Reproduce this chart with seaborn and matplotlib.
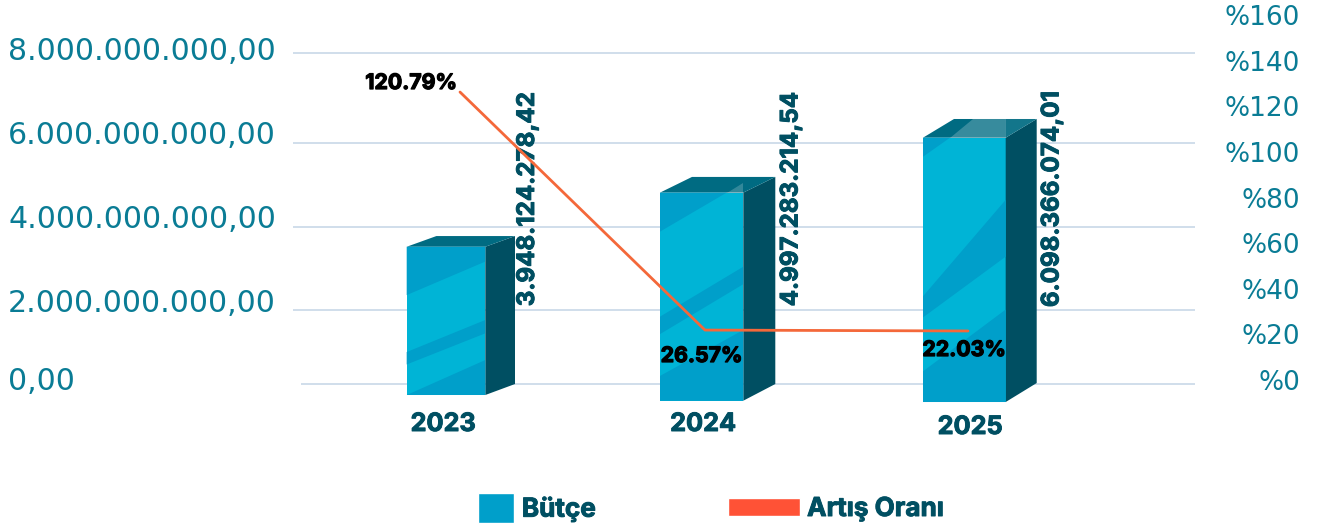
import matplotlib
matplotlib.use("Agg")
import matplotlib.pyplot as plt
from matplotlib.patches import Polygon, Patch
from matplotlib.transforms import ScaledTranslation
import matplotlib.patheffects as pe
import seaborn as sns
import numpy as np

# ---------- data ----------
years = ["2023", "2024", "2025"]
budget_labels = ["3.948.124.278,42", "4.997.283.214,54", "6.098.366.074,01"]
rate_labels = ["120.79%", "26.57%", "22.03%"]
bar_top = [3.25e9, 4.57e9, 5.91e9]       # drawn front-face tops on the left axis
bar_bottom = [-0.366e9, -0.505e9, -0.537e9]
rate_drawn = [126.3, 21.9, 21.5]
left_ticks = [0, 2e9, 4e9, 6e9, 8e9]
left_ticklabels = ["0,00", "2.000.000.000,00", "4.000.000.000,00", "6.000.000.000,00", "8.000.000.000,00"]
right_ticks = [0, 20, 40, 60, 80, 100, 120, 140, 160]
right_ticklabels = ["%" + str(t) for t in right_ticks]
grid_values = [7.976e9, 5.78e9, 3.73e9, 1.707e9, -0.098e9]

# ---------- layout (pixels) ----------
W, H = 1330, 531
AX_L, AX_R, AX_B = 290, 1195, 410
bar_x0 = [406.7, 660.0, 923.0]
bar_x1 = [485.3, 743.3, 1005.7]
depth_x = [29.7, 32.0, 31.0]
depth_top = [10.7, 15.7, 18.7]
depth_bot = [11.0, 16.7, 19.0]
line_x = [460, 705, 968]
year_tick_x = [443, 703, 970]
year_pad_px = [3, 3, 6]
label_x = [528, 791.5, 1052.5]
label_y = [199, 199, 199]
rate_x = [411, 701.5, 964]
rate_y = [83, 356, 350]
left_label_shift_px = [2, -2, 0, 1, 3]   # upward shift of each left tick label
PX = 41 / 1e9      # pixels per budget unit
PR = 2.28          # pixels per percent

LIGHT, DARK = "#00b4d6", "#009fca"
SIDE, TOP = "#004f62", "#006b82"
TEAL, LABEL = "#0a7c95", "#004f62"
GRID = "#c3d4e6"
ORANGE, LEGEND_ORANGE = "#f4683a", "#ff5236"
BOLD = "Inter"
FS_BOLD = 18.2

sns.set_theme(style="white", rc={"axes.facecolor": "none", "figure.facecolor": "white"})
plt.rcParams["font.family"] = ["DejaVu Sans"]
plt.rcParams["ytick.alignment"] = "center_baseline"


def heavy(color, w=0.7):
    return [pe.withStroke(linewidth=w, foreground=color)]


fig = plt.figure(figsize=(W / 100, H / 100), dpi=100)
ax = fig.add_axes([AX_L / W, (H - AX_B) / H, (AX_R - AX_L) / W, AX_B / H])
ax.set_xlim(AX_L, AX_R)
ax.set_ylim(-(AX_B - 380) / PX, 380 / PX)

# gridlines
for i, g in enumerate(grid_values):
    ax.hlines(g, 301 if i == 4 else AX_L + 3, AX_R, color=GRID, lw=1.1, zorder=1)

# front faces through seaborn
centers = [(a + b) / 2 for a, b in zip(bar_x0, bar_x1)]
heights = [t - b for t, b in zip(bar_top, bar_bottom)]
sns.barplot(x=centers, y=heights, bottom=bar_bottom, native_scale=True, color=LIGHT,
            saturation=1, width=0.3, ax=ax, zorder=3, legend=False)
for p, a, b, lo, hi in zip(ax.patches, bar_x0, bar_x1, bar_bottom, bar_top):
    p.set_x(a); p.set_width(b - a); p.set_y(lo); p.set_height(hi - lo)
    p.set_linewidth(0)
ax.set_xlim(AX_L, AX_R)
ax.set_ylim(-(AX_B - 380) / PX, 380 / PX)

# dark stripes on the front faces: (u, v) fractions of each face, v from the top
stripes = [
    [[(0, 0), (1, 0), (1, .10), (0, .326)], [(0, .71), (1, .494), (1, .584), (0, .794)], [(0, 1), (1, .764), (1, 1)]],
    [[(0, 0), (.8, 0), (0, .1875)], [(0, .596), (1, .356), (1, .44), (0, .68)], [(0, .881), (1, .66), (1, 1), (0, 1)]],
    [[(0, 0), (.327, 0), (0, .072)], [(0, .60), (1, .235), (1, .45), (0, .68)], [(0, .884), (1, .65), (1, 1), (0, 1)]],
]
for i in range(3):
    a, b, lo, hi = bar_x0[i], bar_x1[i], bar_bottom[i], bar_top[i]
    for s in stripes[i]:
        pts = [(a + u * (b - a), hi - v * (hi - lo)) for u, v in s]
        ax.add_patch(Polygon(pts, closed=True, fc=DARK, ec="none", zorder=3.2))
    dx, dt, db = depth_x[i], depth_top[i] / PX, depth_bot[i] / PX
    ax.add_patch(Polygon([(b, hi), (b + dx, hi + dt), (b + dx, lo + db), (b, lo)], fc=SIDE, ec="none", zorder=3.1))
    ax.add_patch(Polygon([(a, hi), (b, hi), (b + dx, hi + dt), (a + dx, hi + dt)], fc=TOP, ec="none", zorder=3.1))
    ax.text(label_x[i], (380 - label_y[i]) / PX, budget_labels[i], rotation=90, ha="center", va="center",
            color=LABEL, family=BOLD, weight="bold", fontsize=17.4, zorder=5, path_effects=heavy(LABEL))

# translucent highlights on the top faces
b, hi = bar_x1[2], bar_top[2]
ax.add_patch(Polygon([(950, hi), (b, hi), (b, hi + 18.7 / PX), (972.6, hi + 18.7 / PX)], fc="white", alpha=.22, ec="none", zorder=3.3))
ax.add_patch(Polygon([(b, hi), (b + 31, hi + 18.7 / PX), (b, hi + 18.7 / PX)], fc="white", alpha=.08, ec="none", zorder=3.3))
b, hi = bar_x1[1], bar_top[1]
ax.add_patch(Polygon([(727, hi), (b, hi), (b, hi + 9.5 / PX)], fc="white", alpha=.2, ec="none", zorder=3.3))

# axes / ticks
ax.set_yticks(left_ticks)
ax.set_yticklabels(left_ticklabels, color=TEAL, fontsize=21.6, ha="left")
ax.tick_params(axis="y", length=0, pad=(AX_L - 8) * 0.72)
for lab, dy in zip(ax.get_yticklabels(), left_label_shift_px):
    lab.set_transform(lab.get_transform() + ScaledTranslation(0, dy / 100, fig.dpi_scale_trans))
ax.set_xticks(year_tick_x)
ax.set_xticklabels(years, color=LABEL, family=BOLD, weight="bold", fontsize=FS_BOLD, path_effects=heavy(LABEL))
ax.tick_params(axis="x", length=0)
for t, pad in zip(ax.xaxis.get_major_ticks(), year_pad_px):
    t.set_pad(pad * 0.72)
ax.set_ylabel(""); ax.set_xlabel("")

ax2 = ax.twinx()
ax2.set_ylim(-(AX_B - 380) / PR, 380 / PR)
sns.lineplot(x=line_x, y=rate_drawn, color=ORANGE, lw=2, ax=ax2, zorder=4, errorbar=None, sort=False)
ax2.set_yticks(right_ticks)
ax2.set_yticklabels(right_ticklabels, color=TEAL, fontsize=19, ha="right")
ax2.tick_params(axis="y", length=0, pad=(1300 - AX_R) * 0.72)
ax2.set_ylabel("")
for x_, y_, s_ in zip(rate_x, rate_y, rate_labels):
    ax2.text(x_, (380 - y_) / PR, s_, ha="center", va="center", family=BOLD, weight="bold", fontsize=15.3,
             color="black", zorder=6, path_effects=heavy("black", 0.9))

for a_ in (ax, ax2):
    sns.despine(ax=a_, left=True, right=True, top=True, bottom=True)

# legend: one box per entry, since the keys differ in size
FS_LEG = 18.8
fp = dict(family=BOLD, weight="bold", size=FS_LEG)
l1 = fig.legend(handles=[Patch(fc=DARK, label="Bütçe")], loc="center left", frameon=False,
                bbox_to_anchor=(478 / W, 1 - 508 / H), borderaxespad=0, borderpad=0, prop=fp,
                handlelength=36 * .72 / FS_LEG, handleheight=1.42, handletextpad=.3, labelcolor=LABEL)
l2 = fig.legend(handles=[Patch(fc=LEGEND_ORANGE, label="Artış Oranı")], loc="center left", frameon=False,
                bbox_to_anchor=(728 / W, 1 - 509 / H), borderaxespad=0, borderpad=0, prop=fp,
                handlelength=72 * .72 / FS_LEG, handleheight=.7, handletextpad=.27, labelcolor=LABEL)
for lg in (l1, l2):
    for t in lg.get_texts():
        t.set_path_effects(heavy(LABEL))

fig.savefig("out.png", dpi=100)
